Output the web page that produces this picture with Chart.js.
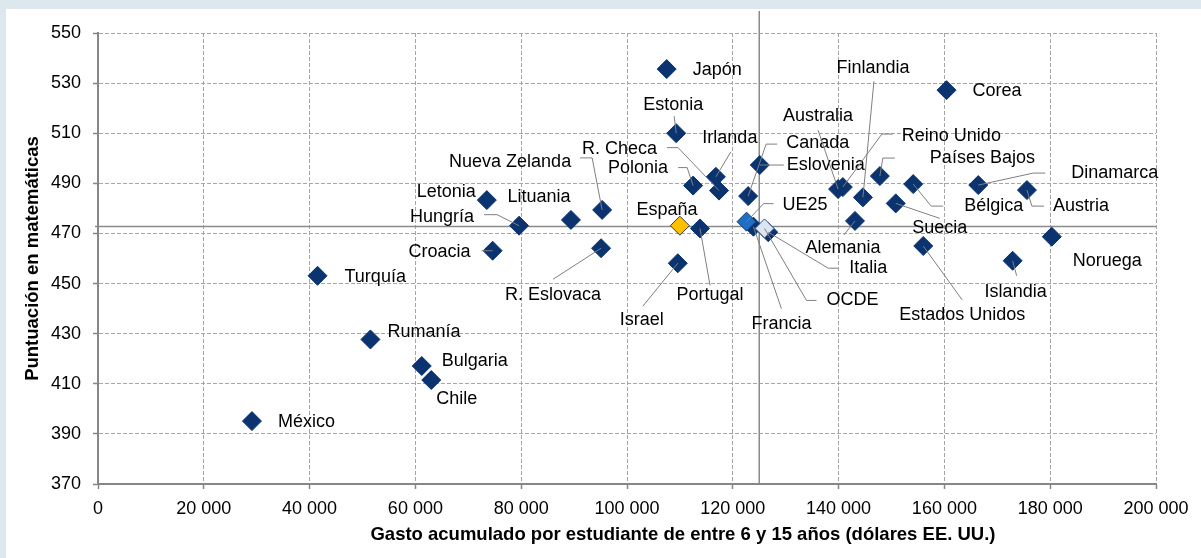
<!DOCTYPE html>
<html lang="es">
<head>
<meta charset="utf-8">
<title>Gasto acumulado por estudiante y puntuación en matemáticas</title>
<script src="https://cdn.jsdelivr.net/npm/chart.js@4.4.1/dist/chart.umd.min.js"></script>
<style>
    html, body { margin: 0; padding: 0; background: #dde7ee; overflow: hidden; }
    #panel { position: absolute; left: 6px; top: 9px; width: 1195px; height: 549px; background: #fff; }
    #spendChart { display: block; }
</style>
</head>
<body>
<div id="panel"><canvas id="spendChart" width="1195" height="549"></canvas></div>
<script>
// Gasto acumulado (USD) y puntuación media en matemáticas por país
const countries = [
    'Japón', 'Corea', 'Estonia', 'Irlanda', 'R. Checa', 'Polonia', 'Nueva Zelanda',
    'Letonia', 'Lituania', 'Hungría', 'España', 'Portugal', 'Croacia', 'R. Eslovaca',
    'Israel', 'UE25', 'Francia', 'OCDE', 'Italia', 'Alemania', 'Canada', 'Eslovenia',
    'Australia', 'Reino Unido', 'Finlandia', 'Países Bajos', 'Dinamarca', 'Bélgica',
    'Austria', 'Suecia', 'Estados Unidos', 'Islandia', 'Noruega', 'Turquía', 'Rumanía',
    'Bulgaria', 'Chile', 'México'
];
const spending = [
    107500, 160400, 109300, 116800, 117400, 112500, 95300,
    73500, 89400, 79600, 110000, 113800, 74600, 95100,
    109600, 122600, 123900, 126000, 126700, 143100, 122900, 125100,
    139900, 140800, 144600, 147800, 166400, 154100,
    175600, 150800, 156000, 172900, 180300, 41500, 51500,
    61200, 63000, 29100
];
const mathScore = [
    535.6, 527.2, 510.0, 492.6, 487.1, 489.1, 479.4,
    483.3, 475.4, 473.1, 473.1, 472.0, 463.1, 464.1,
    458.1, 474.7, 472.7, 472.0, 470.5, 475.0, 484.9, 497.3,
    487.7, 488.5, 484.4, 492.9, 489.3, 489.7,
    487.3, 482.0, 465.0, 459.1, 468.7, 453.1, 427.7,
    417.1, 411.5, 395.1
];

// Líneas de referencia (media OCDE)
const refSpending = 125000;
const refScore = 472.8;

const xMin = 0, xMax = 200000, xStep = 20000;
const yMin = 370, yMax = 550, yStep = 20;

const xTitle = 'Gasto acumulado por estudiante de entre 6 y 15 años (dólares EE. UU.)';
const yTitle = 'Puntuación en matemáticas';

const NAVY = '#0a3370';
const FONT = '"Liberation Sans", Arial, sans-serif';

// Puntos destacados con su propio color
const highlightStyle = {
    'España': { fill: '#ffc000', border: '#3a3a3a' },
    'UE25':   { fill: '#1f70c4', border: NAVY },
    'OCDE':   { fill: '#dce6f2', border: '#1f4e8c' }
};

// Posición de cada etiqueta respecto a su punto (px) y trazo de la línea guía
const labelLayout = {
    'Japón':          { dx: 26,  dy: 1,    align: 'left' },
    'Corea':          { dx: 26,  dy: 1,    align: 'left' },
    'Estonia':        { dx: -3,  dy: -28,  align: 'center', leader: [[-2, -17], [0, 0]] },
    'Irlanda':        { dx: 14,  dy: -39,  align: 'center', leader: [[15, -25], [0, 0]] },
    'R. Checa':       { dx: -62, dy: -42,  align: 'right',  leader: [[-52, -43], [-41, -43], [0, 0]] },
    'Polonia':        { dx: -25, dy: -18,  align: 'right',  leader: [[-15, -18], [-6, -18], [0, 0]] },
    'Nueva Zelanda':  { dx: -31, dy: -48,  align: 'right',  leader: [[-22, -52], [-10, -52], [0, 0]] },
    'Letonia':        { dx: -11, dy: -8,   align: 'right' },
    'Lituania':       { dx: -32, dy: -23,  align: 'center' },
    'Hungría':        { dx: -45, dy: -9,   align: 'right',  leader: [[-35, -11], [-22, -11], [0, 0]] },
    'España':         { dx: -13, dy: -16,  align: 'center' },
    'Portugal':       { dx: 10,  dy: 67,   align: 'center', leader: [[10, 57], [0, 0]] },
    'Croacia':        { dx: -22, dy: 1,    align: 'right',  leader: [[-11, 0], [0, 0]] },
    'R. Eslovaca':    { dx: -48, dy: 47,   align: 'center', leader: [[-48, 31], [0, 0]] },
    'Israel':         { dx: -36, dy: 57,   align: 'center', leader: [[-35, 43], [0, 0]] },
    'UE25':           { dx: 36,  dy: -17,  align: 'left',   leader: [[27, -18], [17, -18], [0, 0]] },
    'Francia':        { dx: 28,  dy: 97,   align: 'center', leader: [[28, 82], [0, 0]] },
    'OCDE':           { dx: 62,  dy: 72,   align: 'left',   leader: [[52, 72], [42, 72], [0, 0]] },
    'Italia':         { dx: 81,  dy: 36,   align: 'left',   leader: [[70, 36], [60, 36], [0, 0]] },
    'Alemania':       { dx: -12, dy: 27,   align: 'center', leader: [[-11, 14], [0, 0]] },
    'Canada':         { dx: 38,  dy: -53,  align: 'left',   leader: [[29, -52], [18, -52], [0, 0]] },
    'Eslovenia':      { dx: 27,  dy: 0,    align: 'left',   leader: [[24, 0], [0, 0]] },
    'Australia':      { dx: -20, dy: -73,  align: 'center', leader: [[-20, -59], [0, 0]] },
    'Reino Unido':    { dx: 59,  dy: -51,  align: 'left',   leader: [[50, -53], [39, -53], [0, 0]] },
    'Finlandia':      { dx: 10,  dy: -129, align: 'center', leader: [[11, -116], [0, 0]] },
    'Países Bajos':   { dx: 50,  dy: -18,  align: 'left',   leader: [[15, -18], [3, -18], [0, 0]] },
    'Dinamarca':      { dx: 93,  dy: -12,  align: 'left',   leader: [[67, -12], [55, -12], [0, 0]] },
    'Bélgica':        { dx: 51,  dy: 22,   align: 'left',   leader: [[30, 22], [18, 22], [0, 0]] },
    'Austria':        { dx: 26,  dy: 16,   align: 'left',   leader: [[17, 16], [5, 16], [0, 0]] },
    'Suecia':         { dx: 44,  dy: 25,   align: 'center', leader: [[44, 15], [0, 0]] },
    'Estados Unidos': { dx: 39,  dy: 69,   align: 'center', leader: [[39, 54], [0, 0]] },
    'Islandia':       { dx: 3,   dy: 31,   align: 'center', leader: [[4, 15], [0, 0]] },
    'Noruega':        { dx: 21,  dy: 24,   align: 'left' },
    'Turquía':        { dx: 27,  dy: 1,    align: 'left' },
    'Rumanía':        { dx: 17,  dy: -7,   align: 'left' },
    'Bulgaria':       { dx: 20,  dy: -5,   align: 'left' },
    'Chile':          { dx: 5,   dy: 19,   align: 'left' },
    'México':         { dx: 26,  dy: 1,    align: 'left' }
};

function formatThousands(v) {
    return String(v).replace(/\B(?=(\d{3})+(?!\d))/g, ' ');
}

function pointsWhere(test) {
    return countries
        .map((name, i) => ({ x: spending[i], y: mathScore[i], name }))
        .filter(p => test(p.name));
}

// Resto de países en azul oscuro; los destacados encima
const datasets = [{
    label: 'Países',
    data: pointsWhere(n => !highlightStyle[n]),
    backgroundColor: NAVY,
    borderColor: NAVY,
    order: 2
}];
Object.keys(highlightStyle).forEach(name => {
    datasets.push({
        label: name,
        data: pointsWhere(n => n === name),
        backgroundColor: highlightStyle[name].fill,
        borderColor: highlightStyle[name].border,
        order: 1
    });
});

const referenceLines = {
    id: 'referenceLines',
    beforeDatasetsDraw(chart) {
        const { ctx, chartArea, scales: { x, y } } = chart;
        const px = x.getPixelForValue(refSpending);
        const py = y.getPixelForValue(refScore);
        ctx.save();
        ctx.strokeStyle = '#8a8a8a';
        ctx.lineWidth = 1.5;
        ctx.beginPath();
        ctx.moveTo(chartArea.left - 3, py);
        ctx.lineTo(chartArea.right, py);
        ctx.moveTo(px, 2);
        ctx.lineTo(px, chartArea.bottom);
        ctx.stroke();
        ctx.restore();
    }
};

const pointLabels = {
    id: 'pointLabels',
    afterDatasetsDraw(chart) {
        const { ctx } = chart;
        ctx.save();
        ctx.font = `18px ${FONT}`;
        ctx.textBaseline = 'middle';
        chart.data.datasets.forEach((ds, di) => {
            const meta = chart.getDatasetMeta(di);
            meta.data.forEach((el, i) => {
                const name = ds.data[i].name;
                const lay = labelLayout[name];
                if (!lay) return;
                if (lay.leader) {
                    ctx.strokeStyle = '#7f7f7f';
                    ctx.lineWidth = 1;
                    ctx.beginPath();
                    lay.leader.forEach(([lx, ly], k) => {
                        if (k === 0) ctx.moveTo(el.x + lx, el.y + ly);
                        else ctx.lineTo(el.x + lx, el.y + ly);
                    });
                    ctx.stroke();
                }
                ctx.fillStyle = '#000';
                ctx.textAlign = lay.align;
                ctx.fillText(name, el.x + lay.dx, el.y + lay.dy);
            });
        });
        ctx.restore();
    }
};

const axisTitles = {
    id: 'axisTitles',
    afterDraw(chart) {
        const { ctx, chartArea } = chart;
        ctx.save();
        ctx.fillStyle = '#000';
        ctx.font = `bold 18.5px ${FONT}`;
        ctx.textAlign = 'center';
        ctx.textBaseline = 'middle';
        ctx.fillText(xTitle, 677, 526);
        ctx.translate(27, (chartArea.top + chartArea.bottom) / 2);
        ctx.rotate(-Math.PI / 2);
        ctx.fillText(yTitle, 0, 0);
        ctx.restore();
    }
};

const ctx = document.getElementById('spendChart');
new Chart(ctx, {
    type: 'scatter',
    data: { datasets },
    options: {
        responsive: false,
        animation: false,
        layout: { padding: { top: 24, right: 45, left: 0, bottom: 0 } },
        elements: {
            point: { pointStyle: 'rectRot', radius: 9.5, borderWidth: 1, hoverRadius: 9.5 }
        },
        plugins: {
            legend: { display: false },
            tooltip: { enabled: false }
        },
        scales: {
            x: {
                type: 'linear',
                min: xMin,
                max: xMax,
                afterFit: s => { s.height = 74; },
                ticks: {
                    stepSize: xStep,
                    padding: 9,
                    color: '#000',
                    font: { size: 18, family: FONT },
                    maxRotation: 0,
                    callback: v => formatThousands(v)
                },
                grid: { color: '#a6a6a6', lineWidth: 1, tickLength: 5, tickColor: '#868686', tickWidth: 1.5 },
                border: { color: '#868686', width: 2, dash: [4, 2] }
            },
            y: {
                type: 'linear',
                min: yMin,
                max: yMax,
                afterFit: s => { s.width = 92; },
                ticks: {
                    stepSize: yStep,
                    padding: 12,
                    color: '#000',
                    font: { size: 18, family: FONT }
                },
                grid: { color: '#a6a6a6', lineWidth: 1, tickLength: 5, tickColor: '#868686', tickWidth: 1.5 },
                border: { color: '#868686', width: 2, dash: [4, 2] }
            }
        }
    },
    plugins: [referenceLines, pointLabels, axisTitles]
});
</script>
</body>
</html>
